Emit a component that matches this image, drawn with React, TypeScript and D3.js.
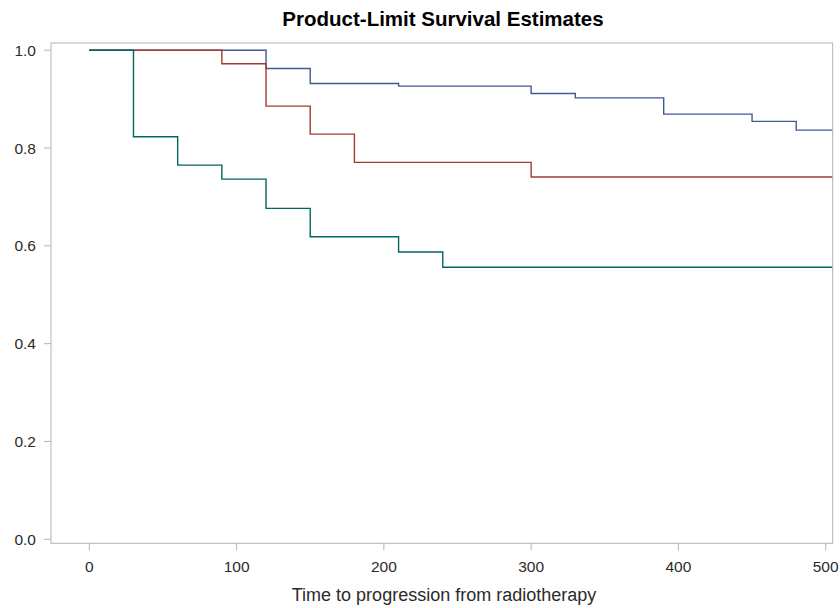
import React from "react";
import * as d3 from "d3";

const W = 840;
const H = 608;

// Step-function survival estimates (time, survival)
const group1Times = [0, 120, 150, 210, 300, 330, 390, 450, 480, 505];
const group1Surv = [1.0, 0.9626, 0.932, 0.9265, 0.9116, 0.9026, 0.8693, 0.8544, 0.8366, 0.8366];
const group2Times = [0, 90, 120, 150, 180, 300, 505];
const group2Surv = [1.0, 0.9724, 0.8856, 0.8284, 0.7706, 0.7406, 0.7406];
const group3Times = [0, 30, 60, 90, 120, 150, 210, 240, 505];
const group3Surv = [1.0, 0.8229, 0.765, 0.7365, 0.6766, 0.6186, 0.5873, 0.5561, 0.5561];

const xTicks = [0, 100, 200, 300, 400, 500];
const yTicks = [0, 0.2, 0.4, 0.6, 0.8, 1.0];

const seriesColors = ["#445694", "#A23A2E", "#01665E"];

export default function App() {
  const frame = { left: 51, right: 832.7, top: 43, bottom: 543.3 };
  const x = d3.scaleLinear().domain([0, 500]).range([89.3, 825.7]);
  const y = d3.scaleLinear().domain([0, 1]).range([539.3, 50.2]);

  const series = [
    { t: group1Times, s: group1Surv, c: seriesColors[0] },
    { t: group2Times, s: group2Surv, c: seriesColors[1] },
    { t: group3Times, s: group3Surv, c: seriesColors[2] },
  ];

  const line = d3
    .line<[number, number]>()
    .x((d) => x(d[0]))
    .y((d) => y(d[1]))
    .curve(d3.curveStepAfter);

  const font = "'Liberation Sans', Arial, sans-serif";
  const axisColor = "#B0B3B7";
  const textColor = "#2b2b2b";

  return (
    <div style={{ position: "absolute", left: 0, top: 0 }}>
      <svg width={W} height={H} style={{ display: "block", background: "#fff" }}>
        <defs>
          <clipPath id="plotclip">
            <rect
              x={frame.left}
              y={frame.top}
              width={frame.right - frame.left}
              height={frame.bottom - frame.top}
            />
          </clipPath>
        </defs>
        <text
          x={443}
          y={26}
          textAnchor="middle"
          fontFamily={font}
          fontWeight="bold"
          fontSize={20.5}
          fill="#000"
        >
          Product-Limit Survival Estimates
        </text>

        <g clipPath="url(#plotclip)">
          {series.map((sr, i) => (
            <path
              key={i}
              d={line(sr.t.map((t, j) => [t, sr.s[j]] as [number, number])) || ""}
              fill="none"
              stroke={sr.c}
              strokeWidth={1.4}
            />
          ))}
        </g>

        <rect
          x={frame.left}
          y={frame.top}
          width={frame.right - frame.left}
          height={frame.bottom - frame.top}
          fill="none"
          stroke={axisColor}
          strokeWidth={1}
        />

        {yTicks.map((v) => (
          <g key={"y" + v}>
            <line
              x1={frame.left - 7}
              x2={frame.left}
              y1={y(v)}
              y2={y(v)}
              stroke={axisColor}
            />
            <text
              x={36}
              y={y(v) + 5.5}
              textAnchor="end"
              fontFamily={font}
              fontSize={15.5}
              fill={textColor}
            >
              {d3.format(".1f")(v)}
            </text>
          </g>
        ))}

        {xTicks.map((v) => (
          <g key={"x" + v}>
            <line
              x1={x(v)}
              x2={x(v)}
              y1={frame.bottom}
              y2={frame.bottom + 7}
              stroke={axisColor}
            />
            <text
              x={x(v)}
              y={572}
              textAnchor="middle"
              fontFamily={font}
              fontSize={15.5}
              fill={textColor}
            >
              {v}
            </text>
          </g>
        ))}

        <text
          x={444}
          y={601}
          textAnchor="middle"
          fontFamily={font}
          fontSize={18}
          fill={textColor}
        >
          Time to progression from radiotherapy
        </text>
      </svg>
    </div>
  );
}
